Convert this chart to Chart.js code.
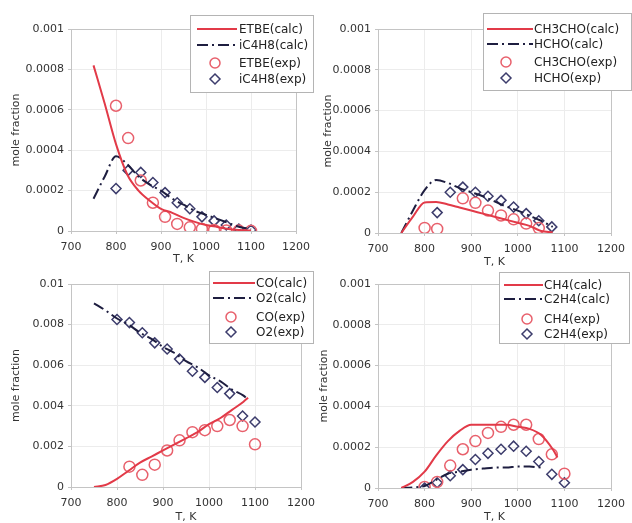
<!DOCTYPE html>
<html><head><meta charset="utf-8">
<script src="https://cdn.jsdelivr.net/npm/chart.js@4/dist/chart.umd.min.js"></script>
<style>
html,body{margin:0;padding:0;background:#fff;}
#wrap{position:relative;width:632px;height:523px;overflow:hidden;background:#fff;}
#wrap canvas{position:absolute;left:0;top:0;}
</style></head><body>
<div id="wrap">
<canvas id="c1" width="632" height="523"></canvas>
<canvas id="c2" width="632" height="523"></canvas>
<canvas id="c3" width="632" height="523"></canvas>
<canvas id="c4" width="632" height="523"></canvas>
</div>
<script>
// ---------- data ----------
const expT = [800, 827, 855, 882, 909, 936, 964, 991, 1018, 1045, 1073, 1100];

// panel 1
const calcT1 = [750, 775, 800, 825, 850, 875, 900, 925, 950, 975, 1000, 1025, 1050, 1075, 1100];
const etbeCalc = [0.00082, 0.00063, 0.00043, 0.00028, 0.0002, 0.00015, 0.00011, 0.00009, 0.000065, 0.000045, 0.00003, 0.00002, 0.00001, 0.000005, 0.000002];
const ic4h8Calc = [0.00016, 0.00027, 0.00037, 0.00033, 0.00027, 0.00023, 0.0002, 0.00016, 0.00013, 0.0001, 0.00008, 0.00006, 0.00004, 0.00002, 0.00001];
const etbeExp = [0.00062, 0.00046, 0.00025, 0.00014, 0.00007, 0.000035, 0.000018, 0.00001, 0.000005, 0.000003, 0.000002, 0.000001];
const ic4h8Exp = [0.00021, 0.0003, 0.00029, 0.00024, 0.00019, 0.00014, 0.00011, 0.00007, 0.00005, 0.00003, 0.00001, 0.000005];

// panel 2
const calcT2 = [750, 775, 800, 825, 850, 875, 900, 925, 950, 975, 1000, 1025, 1050, 1075];
const ch3choCalc = [0, 0.00008, 0.00015, 0.000152, 0.00014, 0.000125, 0.00011, 0.000095, 0.00008, 0.000065, 0.00005, 0.000035, 0.00001, 0.000003];
const hchoCalc = [0, 0.00011, 0.00021, 0.00026, 0.000245, 0.00022, 0.0002, 0.00018, 0.000155, 0.00013, 0.00011, 0.000085, 0.00006, 0.00003];
const ch3choExp = [0.000025, 0.00002, null, 0.00017, 0.000148, 0.00011, 0.000086, 0.000067, 0.000046, 0.000024, null, null];
const hchoExp = [null, 0.0001, 0.0002, 0.000225, 0.0002, 0.00018, 0.00016, 0.000127, 0.000095, 0.00006, 0.00003, null];

// panel 3
const calcT3 = [750, 775, 800, 825, 850, 875, 900, 925, 950, 975, 1000, 1025, 1050, 1075, 1085];
const coCalc = [0, 0.0001, 0.0004, 0.0008, 0.0012, 0.0015, 0.0018, 0.0021, 0.0024, 0.0027, 0.0031, 0.0034, 0.0038, 0.0042, 0.0044];
const o2Calc = [0.00905, 0.0087, 0.0083, 0.008, 0.0076, 0.0073, 0.0069, 0.0066, 0.0062, 0.0059, 0.0055, 0.0052, 0.0048, 0.0045, 0.0043];
const coExp = [null, 0.001, 0.0006, 0.0011, 0.0018, 0.0023, 0.0027, 0.0028, 0.003, 0.0033, 0.003, 0.0021];
const o2Exp = [0.00825, 0.0081, 0.0076, 0.0071, 0.0068, 0.0063, 0.0057, 0.0054, 0.0049, 0.0046, 0.0035, 0.0032];

// panel 4
const calcT4 = [750, 775, 800, 825, 850, 875, 900, 925, 950, 975, 1000, 1025, 1050, 1075, 1085];
const ch4Calc = [0, 0.00003, 0.00008, 0.00016, 0.00023, 0.00028, 0.00031, 0.00031, 0.00031, 0.00031, 0.0003, 0.00029, 0.00026, 0.00019, 0.00015];
const c2h4Calc = [0, 0.000003, 0.00001, 0.00004, 0.00007, 0.00008, 0.00009, 0.000095, 0.0001, 0.0001, 0.000105, 0.000105, 0.0001, null, null];
const ch4Exp = [0.000005, 0.00003, 0.00011, 0.00019, 0.00023, 0.00027, 0.0003, 0.00031, 0.00031, 0.00024, 0.000165, 0.00007];
const c2h4Exp = [0, 0.000026, 0.00006, 0.00009, 0.00014, 0.00017, 0.00019, 0.000205, 0.00018, 0.00013, 0.000067, 0.000026];

// ticks
const xTicks = [700, 800, 900, 1000, 1100, 1200];
const xTickLabels = ['700', '800', '900', '1000', '1100', '1200'];
const yTicksSmall = [0, 0.0002, 0.0004, 0.0006, 0.0008, 0.001];
const yTickLabelsSmall = ['0', '0.0002', '0.0004', '0.0006', '0.0008', '0.001'];
const yTicksBig = [0, 0.002, 0.004, 0.006, 0.008, 0.01];
const yTickLabelsBig = ['0', '0.002', '0.004', '0.006', '0.008', '0.01'];

const xTitle = 'T, K';
const yTitle = 'mole fraction';

// ---------- styling ----------
const RED = '#e23a48';
const PINK = '#e8606c';
const DARK = '#1e1e40';
const NAVY = '#3c3c6c';
const FONT = 'DejaVu Sans';
const DASHDOT = [11, 4, 2, 4];

function pairs(xs, ys) {
  const out = [];
  xs.forEach((x, i) => { if (ys[i] !== null && ys[i] !== undefined) out.push({x: x, y: ys[i]}); });
  return out;
}
function calcDS(label, xs, ys, color, dash) {
  return {label, data: pairs(xs, ys), showLine: true, borderColor: color, backgroundColor: color,
    borderWidth: 2, borderDash: dash || [], pointRadius: 0, pointHoverRadius: 0,
    cubicInterpolationMode: 'monotone', fill: false, kind: 'line'};
}
function expDS(label, xs, ys, color, style, r) {
  return {label, data: pairs(xs, ys), showLine: false, pointStyle: style, pointRadius: r,
    pointBorderColor: color, pointBackgroundColor: 'rgba(255,255,255,0)', pointBorderWidth: 1.5,
    borderColor: color, backgroundColor: 'rgba(255,255,255,0)', kind: 'point'};
}

const framePlugin = {
  id: 'frame',
  beforeDatasetsDraw(chart) {
    const {ctx, chartArea: a} = chart;
    ctx.save();
    ctx.strokeStyle = '#c4c4c4';
    ctx.lineWidth = 1;
    ctx.strokeRect(Math.round(a.left) + 0.5, Math.round(a.top) + 0.5, Math.round(a.right - a.left), Math.round(a.bottom - a.top));
    ctx.restore();
  }
};

const boxLegend = {
  id: 'boxLegend',
  afterDraw(chart, args, o) {
    const ctx = chart.ctx;
    ctx.save();
    ctx.fillStyle = '#ffffff';
    ctx.fillRect(o.x, o.y, o.w, o.h);
    ctx.strokeStyle = '#b4b4b4';
    ctx.lineWidth = 1;
    ctx.strokeRect(o.x + 0.5, o.y + 0.5, o.w, o.h);
    chart.data.datasets.forEach((ds, i) => {
      const y = o.rows[i];
      if (ds.kind === 'line') {
        ctx.strokeStyle = ds.borderColor;
        ctx.lineWidth = 2;
        ctx.setLineDash(ds.borderDash || []);
        ctx.beginPath();
        ctx.moveTo(o.lx1, y);
        ctx.lineTo(o.lx2, y);
        ctx.stroke();
        ctx.setLineDash([]);
      } else {
        ctx.strokeStyle = ds.pointBorderColor;
        ctx.lineWidth = 1.5;
        ctx.beginPath();
        if (ds.pointStyle === 'circle') {
          ctx.arc(o.mx, y, 5, 0, Math.PI * 2);
        } else {
          const r = 5;
          ctx.moveTo(o.mx, y - r); ctx.lineTo(o.mx + r, y); ctx.lineTo(o.mx, y + r); ctx.lineTo(o.mx - r, y); ctx.closePath();
        }
        ctx.stroke();
      }
      ctx.fillStyle = '#222';
      ctx.font = '12px "' + FONT + '"';
      ctx.textBaseline = 'middle';
      ctx.textAlign = 'left';
      ctx.fillText(ds.label, o.tx, y + 0.5);
    });
    ctx.restore();
  }
};

function makePanel(id, area, yTicks, yLabels, datasets, legend) {
  const W = 632, H = 523;
  const yTitleFont = 11, lineH = yTitleFont * 1.2;
  const padLeft = area.yTitleX - lineH / 2 - 2;
  const yWidth = area.L - padLeft;
  const xBottom = area.xTitleY + lineH / 2;
  const xHeight = xBottom - area.B;
  new Chart(document.getElementById(id), {
    type: 'scatter',
    data: {datasets},
    options: {
      responsive: false, animation: false, devicePixelRatio: 1,
      events: [],
      layout: {padding: {left: padLeft, top: area.T, right: W - area.R, bottom: H - xBottom}},
      plugins: {legend: {display: false}, tooltip: {enabled: false}, boxLegend: legend},
      scales: {
        x: {
          type: 'linear', min: 700, max: 1200,
          afterBuildTicks: s => { s.ticks = xTicks.map(v => ({value: v})); },
          afterFit: s => { s.height = xHeight; },
          ticks: {callback: (v, i) => xTickLabels[i], color: '#333', font: {family: FONT, size: 11}, padding: 7, maxRotation: 0, autoSkip: false},
          grid: {color: '#ececec', tickLength: 3, tickColor: '#c4c4c4'},
          border: {color: '#c4c4c4'},
          title: {display: true, text: xTitle, color: '#333', font: {family: FONT, size: yTitleFont}, padding: {top: 0, bottom: 0}}
        },
        y: {
          type: 'linear', min: yTicks[0], max: yTicks[yTicks.length - 1],
          afterBuildTicks: s => { s.ticks = yTicks.map(v => ({value: v})); },
          afterFit: s => { s.width = yWidth; },
          ticks: {callback: (v, i) => yLabels[i], color: '#333', font: {family: FONT, size: 11}, padding: 4, autoSkip: false},
          grid: {color: '#ececec', tickLength: 3, tickColor: '#c4c4c4'},
          border: {color: '#c4c4c4'},
          title: {display: true, text: yTitle, color: '#333', font: {family: FONT, size: yTitleFont}, padding: {top: 2, bottom: 0}}
        }
      }
    },
    plugins: [framePlugin, boxLegend]
  });
}

makePanel('c1', {L: 71, R: 296, T: 29, B: 231, yTitleX: 16, xTitleY: 259}, yTicksSmall, yTickLabelsSmall, [
  calcDS('ETBE(calc)', calcT1, etbeCalc, RED),
  calcDS('iC4H8(calc)', calcT1, ic4h8Calc, DARK, DASHDOT),
  expDS('ETBE(exp)', expT, etbeExp, PINK, 'circle', 5.5),
  expDS('iC4H8(exp)', expT, ic4h8Exp, NAVY, 'rectRot', 5)
], {x: 190, y: 15, w: 123, h: 77, rows: [29, 45, 63, 79], lx1: 197, lx2: 237, mx: 215, tx: 239});

makePanel('c2', {L: 378, R: 617, T: 29, B: 233, yTitleX: 328, xTitleY: 262}, yTicksSmall, yTickLabelsSmall, [
  calcDS('CH3CHO(calc)', calcT2, ch3choCalc, RED),
  calcDS('HCHO(calc)', calcT2, hchoCalc, DARK, DASHDOT),
  expDS('CH3CHO(exp)', expT, ch3choExp, PINK, 'circle', 5.5),
  expDS('HCHO(exp)', expT, hchoExp, NAVY, 'rectRot', 5)
], {x: 483, y: 13, w: 148, h: 77, rows: [29, 44, 62, 78], lx1: 487, lx2: 533, mx: 506, tx: 534});

makePanel('c3', {L: 71, R: 301, T: 284, B: 487, yTitleX: 16, xTitleY: 517}, yTicksBig, yTickLabelsBig, [
  calcDS('CO(calc)', calcT3, coCalc, RED),
  calcDS('O2(calc)', calcT3, o2Calc, DARK, DASHDOT),
  expDS('CO(exp)', expT, coExp, PINK, 'circle', 5.5),
  expDS('O2(exp)', expT, o2Exp, NAVY, 'rectRot', 5)
], {x: 209, y: 271, w: 104, h: 72, rows: [283, 298, 317, 332], lx1: 213, lx2: 255, mx: 231, tx: 256});

makePanel('c4', {L: 378, R: 617, T: 284, B: 488, yTitleX: 324, xTitleY: 517}, yTicksSmall, yTickLabelsSmall, [
  calcDS('CH4(calc)', calcT4, ch4Calc, RED),
  calcDS('C2H4(calc)', calcT4, c2h4Calc, DARK, DASHDOT),
  expDS('CH4(exp)', expT, ch4Exp, PINK, 'circle', 5.5),
  expDS('C2H4(exp)', expT, c2h4Exp, NAVY, 'rectRot', 5)
], {x: 499, y: 272, w: 130, h: 71, rows: [285, 299, 319, 334], lx1: 504, lx2: 543, mx: 527, tx: 544});
</script>
</body></html>
